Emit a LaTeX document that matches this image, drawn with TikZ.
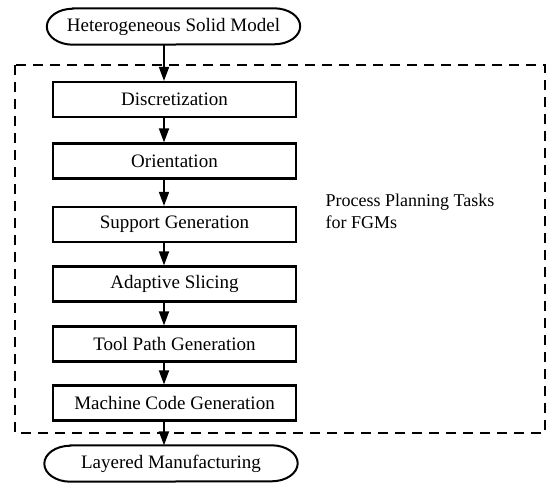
\documentclass[tikz,border=0pt]{standalone}
\usepackage{fontspec}
\setmainfont{Liberation Serif}
\usetikzlibrary{arrows.meta}
\begin{document}
\begin{tikzpicture}[x=1pt,y=-1pt,
  txt/.style={font=\fontsize{19}{22}\selectfont},
  taskbox/.style={draw,line width=2.2pt,minimum width=243pt,minimum height=35pt,inner sep=0pt,txt},
  terminal/.style={minimum width=253pt,minimum height=36pt,inner sep=0pt,txt},
  outline/.style={line width=2pt},
  flow/.style={line width=1.8pt,-{Triangle[length=14pt,width=10pt]}},
  frame/.style={line width=2.2pt,dash pattern=on 10pt off 7pt}]
\useasboundingbox (0,0) rectangle (549,483);
% dashed region grouping the planning tasks
\draw[frame] (15,65) rectangle (545,433);
% start and end terminals, with elliptical ends
\node[terminal] (model) at (173.5,26.5) {Heterogeneous Solid Model};
\node[terminal] (lm) at (171,463.5) {Layered Manufacturing};
\foreach \t in {model,lm}{
  \draw[outline] ([xshift=26pt]\t.north west) -- ([xshift=-26pt]\t.north east)
    arc[start angle=90,end angle=-90,x radius=26pt,y radius=18pt]
    -- ([xshift=26pt]\t.south west)
    arc[start angle=270,end angle=90,x radius=26pt,y radius=18pt] -- cycle;
}
% planning task boxes
\node[taskbox] (t1) at (174.5,99.5) {Discretization};
\node[taskbox] (t2) at (174.5,161) {Orientation};
\node[taskbox] (t3) at (174.5,224.5) {Support Generation};
\node[taskbox] (t4) at (174.5,284) {Adaptive Slicing};
\node[taskbox] (t5) at (174.5,344) {Tool Path Generation};
\node[taskbox] (t6) at (174.5,403) {Machine Code Generation};
% side label
\node[txt,anchor=west,align=left,font=\fontsize{18}{22}\selectfont] (lbl) at (322,211) {Process Planning Tasks\\for FGMs};
% flow arrows
\draw[flow] (model.south -| 164,0) -- (t1.north -| 164,0);
\draw[flow] (t1.south -| 164,0) -- (t2.north -| 164,0);
\draw[flow] (t2.south -| 164,0) -- (t3.north -| 164,0);
\draw[flow] (t3.south -| 164,0) -- (t4.north -| 164,0);
\draw[flow] (t4.south -| 164,0) -- (t5.north -| 164,0);
\draw[flow] (t5.south -| 164,0) -- (t6.north -| 164,0);
\draw[flow] (t6.south -| 164,0) -- (lm.north -| 164,0);
\end{tikzpicture}
\end{document}
